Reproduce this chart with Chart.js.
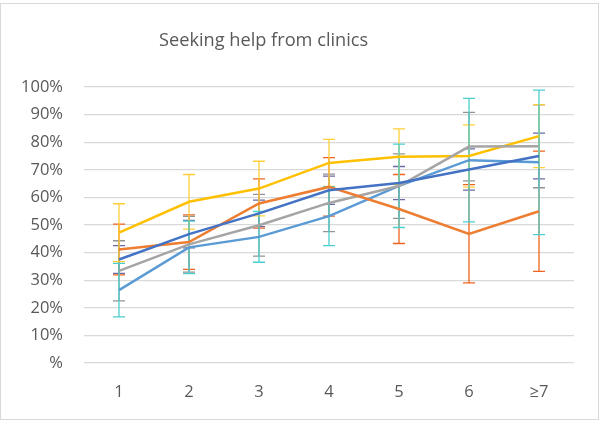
<!DOCTYPE html>
<html lang="en">
<head>
    <meta charset="UTF-8">
    <title>Seeking help from clinics</title>
    <script src="https://cdn.jsdelivr.net/npm/chart.js"></script>
    <style>
        body { margin: 0; background: #fff; }
        .frame { position: absolute; left: 0; top: 3px; width: 597px; height: 415px; border: 1px solid #d9d9d9; }
        #clinicChart { position: absolute; left: 0; top: 0; }
        .chart-title {
            position: absolute; left: 159px; top: 27px; width: 200px;
            text-align: center; white-space: nowrap;
            font-family: 'Open Sans', sans-serif; font-size: 18.2px; line-height: 24px;
            color: #595959;
        }
    </style>
</head>
<body>
    <div class="frame"></div>
    <canvas id="clinicChart" width="599" height="423"></canvas>
    <div class="chart-title">Seeking help from clinics</div>

    <script>
        // categories and values (percent)
        const categories = ['1', '2', '3', '4', '5', '6', '≥7'];

        const blueValues   = [37.5, 46.7, 54.2, 62.6, 65.2, 70.1, 75.0];
        const blueErrors   = [5.0, 5.0, 4.8, 5.1, 6.0, 7.5, 8.3];
        const orangeValues = [41.1, 43.8, 57.8, 63.8, 55.8, 46.8, 55.0];
        const orangeErrors = [9.2, 9.9, 8.9, 10.6, 12.5, 17.8, 21.8];
        const grayValues   = [33.4, 43.0, 49.9, 58.0, 64.1, 78.4, 78.5];
        const grayErrors   = [10.9, 10.1, 11.2, 10.4, 11.7, 12.4, 15.0];
        const yellowValues = [47.2, 58.4, 63.2, 72.5, 74.7, 75.0, 82.2];
        const yellowErrors = [10.5, 9.9, 9.9, 8.5, 10.1, 11.3, 11.4];
        const lightValues  = [26.4, 41.9, 45.7, 53.2, 64.2, 73.5, 72.7];
        const lightErrors  = [9.7, 9.5, 9.2, 10.7, 15.1, 22.4, 26.2];

        const yTicks = [0, 10, 20, 30, 40, 50, 60, 70, 80, 90, 100];

        const textColor = '#595959';
        const fontFamily = "'Open Sans', 'Liberation Sans', sans-serif";

        function series(label, data, errors, color, errColor) {
            return {
                label: label,
                data: data,
                errors: errors,
                errColor: errColor,
                borderColor: color,
                backgroundColor: color,
                borderWidth: 2.5,
                pointRadius: 0,
                tension: 0,
                fill: false
            };
        }

        // draws vertical error bars with caps, positioned by the chart's own scales
        const errorBars = {
            id: 'errorBars',
            beforeDatasetsDraw(chart) {
                const ctx = chart.ctx;
                const yScale = chart.scales.y;
                chart.data.datasets.forEach((ds, i) => {
                    const meta = chart.getDatasetMeta(i);
                    ctx.save();
                    ctx.strokeStyle = ds.errColor;
                    ctx.lineWidth = 1.3;
                    meta.data.forEach((pt, j) => {
                        const top = yScale.getPixelForValue(ds.data[j] + ds.errors[j]);
                        const bot = yScale.getPixelForValue(ds.data[j] - ds.errors[j]);
                        ctx.beginPath();
                        ctx.moveTo(pt.x, top);
                        ctx.lineTo(pt.x, bot);
                        ctx.moveTo(pt.x - 6, top);
                        ctx.lineTo(pt.x + 6, top);
                        ctx.moveTo(pt.x - 6, bot);
                        ctx.lineTo(pt.x + 6, bot);
                        ctx.stroke();
                    });
                    ctx.restore();
                });
            }
        };

        new Chart(document.getElementById('clinicChart'), {
            type: 'line',
            data: {
                labels: categories,
                datasets: [
                    series('Series 1', blueValues, blueErrors, '#4472C4', '#6a6aa6'),
                    series('Series 2', orangeValues, orangeErrors, '#ED7D31', '#f0641e'),
                    series('Series 3', grayValues, grayErrors, '#A5A5A5', '#939393'),
                    series('Series 4', yellowValues, yellowErrors, '#FFC000', '#ffcf3a'),
                    series('Series 5', lightValues, lightErrors, '#5B9BD5', '#4ccfcf')
                ]
            },
            options: {
                responsive: false,
                animation: false,
                layout: { padding: { left: 0, right: 25, top: 87, bottom: 0 } },
                plugins: {
                    legend: { display: false },
                    tooltip: { enabled: false },
                    title: { display: false }
                },
                scales: {
                    x: {
                        offset: true,
                        grid: { display: false, drawTicks: false },
                        border: { display: false },
                        ticks: { color: textColor, padding: 19, font: { family: fontFamily, size: 16.5 } },
                        afterFit(scale) { scale.height = 60; }
                    },
                    y: {
                        min: 0,
                        max: 100,
                        afterBuildTicks(scale) { scale.ticks = yTicks.map(v => ({ value: v })); },
                        grid: { color: '#d9d9d9', lineWidth: 1.3, drawTicks: false },
                        border: { display: false },
                        ticks: {
                            color: textColor,
                            padding: 21,
                            font: { family: fontFamily, size: 16.5 },
                            callback: v => v === 0 ? '%' : v + '%'
                        },
                        afterFit(scale) { scale.width = 84; }
                    }
                }
            },
            plugins: [errorBars]
        });
    </script>
</body>
</html>
